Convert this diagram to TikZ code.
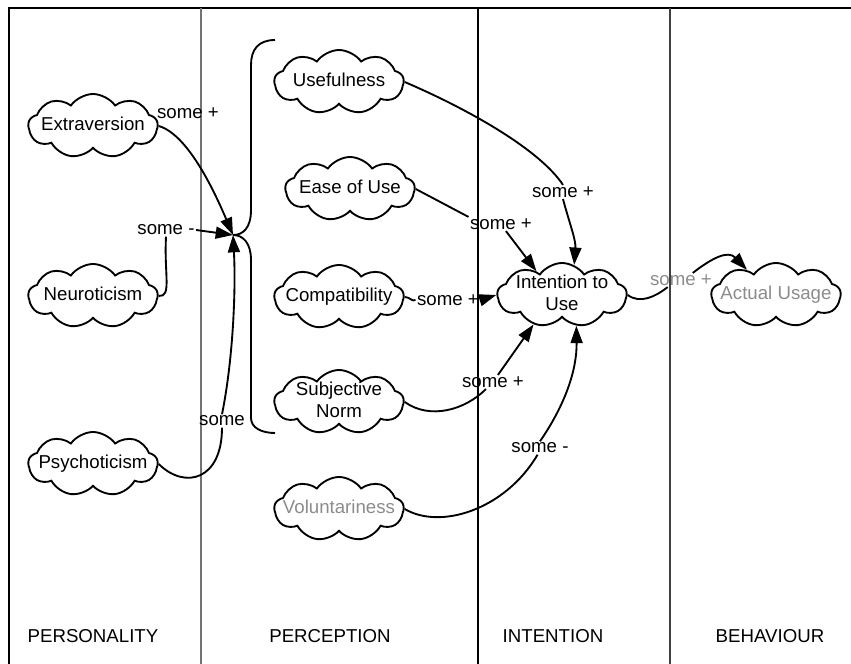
\documentclass[tikz,border=0pt]{standalone}
\usepackage{fontspec}
\setmainfont{Liberation Sans}
\usetikzlibrary{positioning, shapes.symbols, arrows.meta}
\definecolor{fadegray}{gray}{0.55}
\newcommand{\nuvtxt}[1]{\makebox[0pt]{\begin{tabular}{@{}c@{}}#1\end{tabular}}}

\begin{document}
\begin{tikzpicture}[
    x=0.75pt, y=-0.75pt,
    font=\fontsize{14}{16.5}\selectfont,
    % estilos
    nuvem/.style={cloud, cloud puffs=9, cloud puff arc=110, cloud ignores aspect, draw=black, line width=1.4pt, minimum width=97pt, minimum height=48pt, inner sep=0pt, fill=white},
    rotulo/.style={inner sep=1pt},
    seta/.style={draw, line width=1.4pt, -{Triangle[length=13pt,width=9pt]}},
    fio/.style={draw, line width=1.4pt}
]
\useasboundingbox (0,0) rectangle (851,664);

% ==========================
% RAIAS
% ==========================
\def\XA{9}
\def\XB{201}
\def\XC{478}
\def\XD{670}
\draw[line width=2.2pt] (\XA,664) -- (\XA,8) -- (851,8);
\draw[line width=0.9pt, black!55] (\XB,8) -- (\XB,664);
\draw[line width=1.6pt] (\XC,8) -- (\XC,664);
\draw[line width=1.3pt, black!75] (\XD,8) -- (\XD,664);

\node (tPers)  at (93,636)  {PERSONALITY};
\node (tPerc)  at (330,636) {PERCEPTION};
\node (tInt)   at (553,636) {INTENTION};
\node (tBeh)   at (770,636) {BEHAVIOUR};

% ==========================
% NUVENS
% ==========================
\node[nuvem] (extra)  at (93,126)  {\nuvtxt{Extraversion}};
\node[nuvem] (neuro)  at (93,296)  {\nuvtxt{Neuroticism}};
\node[nuvem] (psych)  at (93,464)  {\nuvtxt{Psychoticism}};

\node[nuvem] (useful) at (339,82)  {\nuvtxt{Usefulness}};
\node[nuvem] (ease)   at (350,189) {\nuvtxt{Ease of Use}};
\node[nuvem] (compat) at (339,297) {\nuvtxt{Compatibility}};
\node[nuvem] (subj)   at (339,402) {\nuvtxt{Subjective\\Norm}};
\node[nuvem, text=fadegray] (volun) at (339,509) {\nuvtxt{Voluntariness}};

\node[nuvem] (intent) at (562,295) {\nuvtxt{Intention to\\Use}};
\node[nuvem, text=fadegray] (actual) at (776,295) {\nuvtxt{Actual Usage}};

% chave da percepcao
\coordinate (hub) at (233,235);
\draw[fio] (275,40) .. controls (258,40) and (251,50) .. (251,65) -- (251,210)
    .. controls (251,228) and (243,235) .. (hub)
    .. controls (243,235) and (251,243) .. (251,260) -- (251,418)
    .. controls (251,428) and (262,433) .. (275,433);

% ==========================
% ROTULOS
% ==========================
\node[rotulo] (lExtra)  at (188,113) {some +};
\node[rotulo] (lNeuro)  at (166,230) {some -};
\node[rotulo] (lPsych)  at (222,421) {some};
\node[rotulo] (lUseful) at (563,192) {some +};
\node[rotulo] (lEase)   at (501,224) {some +};
\node[rotulo] (lCompat) at (448,300) {some +};
\node[rotulo] (lSubj)   at (493,382) {some +};
\node[rotulo] (lVolun)  at (540,448) {some -};
\node[rotulo, text=fadegray] (lIntent) at (681,280) {some +};

% ==========================
% LIGACOES
% ==========================
\draw[seta] (extra.east) .. controls (190,135) and (218,200) .. (hub);

\draw[fio] (neuro.east) .. controls (172,297) and (164,275) .. (lNeuro.south);
\draw[seta] (lNeuro.east) -- (hub);

\draw[fio] (psych.east) .. controls (185,490) and (222,480) .. (lPsych.south);
\draw[seta] (lPsych.north) .. controls (233,360) and (236,290) .. (hub);

\draw[fio] (useful.east) .. controls (470,110) and (540,150) .. (lUseful.north);
\draw[seta] (lUseful.south) .. controls (570,225) and (576,240) .. (intent.68);

\draw[fio] (ease.east) -- (lEase.north west);
\draw[seta] (lEase.305) -- (intent.137);

\draw[fio] (compat.east) .. controls (410,297) and (412,302) .. (lCompat.west);
\draw[seta] (lCompat.east) -- (intent.west);

\draw[fio] (subj.east) .. controls (430,420) and (465,410) .. (lSubj.225);
\draw[seta] (lSubj.55) -- (intent.226);

\draw[fio] (volun.east) .. controls (440,530) and (505,510) .. (lVolun.250);
\draw[seta] (lVolun.north) .. controls (565,405) and (577,370) .. (intent.295);

\draw[fio] (intent.east) .. controls (640,304) and (655,297) .. (lIntent.208);
\draw[seta] (lIntent.31) .. controls (712,258) and (728,250) .. (actual.139);

\end{tikzpicture}
\end{document}
